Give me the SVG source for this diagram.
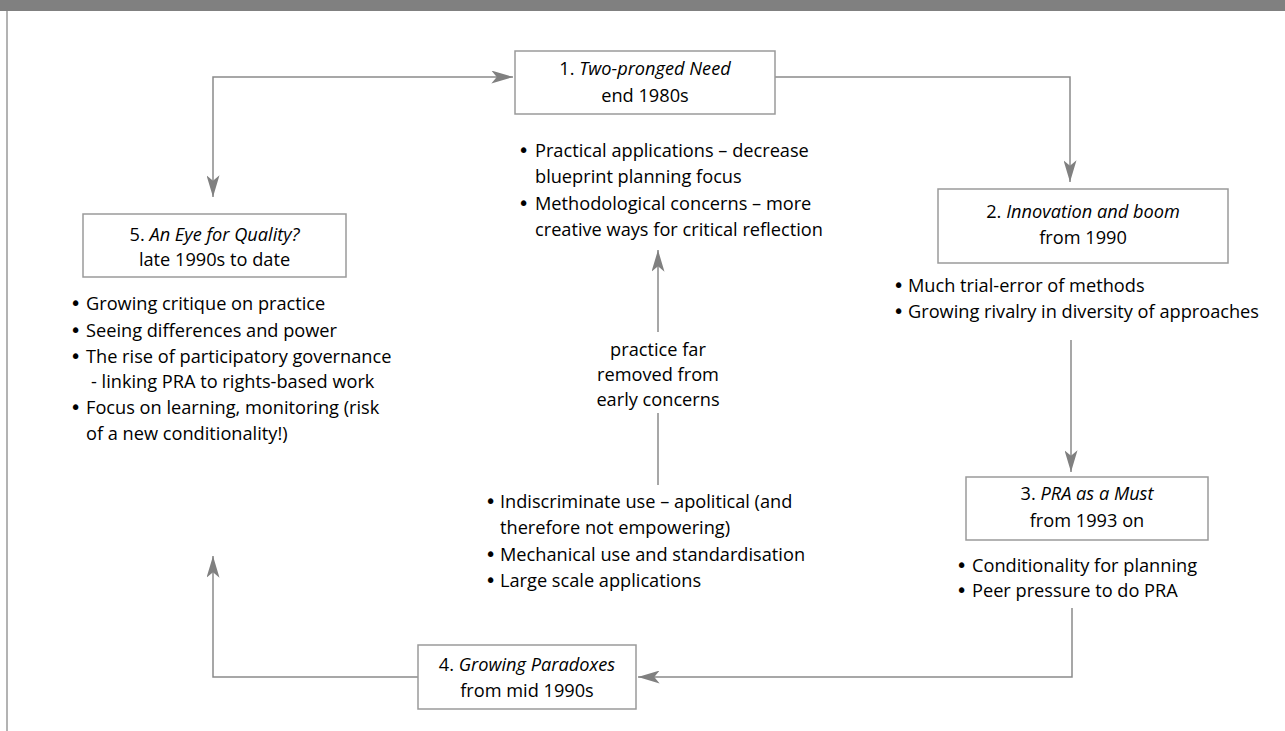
<svg xmlns="http://www.w3.org/2000/svg" width="1285" height="731" viewBox="0 0 1285 731">
<defs>
<style>
.box{fill:#fff;stroke:#9a9a9a;stroke-width:1.5}
.con{fill:none;stroke:#8a8a8a;stroke-width:1.5}
text{font-family:"Open Sans","Liberation Sans",sans-serif;font-size:18.2px;fill:#000}
.b{font-family:"DejaVu Sans","Liberation Sans",sans-serif;font-size:19px}
.c{text-anchor:middle}
.i{font-style:italic}
</style>
<marker id="ah" viewBox="0 0 20 12" refX="20" refY="6" markerWidth="22" markerHeight="13" markerUnits="userSpaceOnUse" orient="auto-start-reverse">
<path d="M0,0 L20,6 L0,12 L5,6 z" fill="#808080"/>
</marker>
</defs>
<rect x="0" y="0" width="1285" height="731" fill="#fff"/>
<rect x="0" y="0" width="1285" height="11" fill="#808080"/>
<line x1="7" y1="11" x2="7" y2="731" stroke="#9a9a9a" stroke-width="1.5"/>

<g id="connectors">
<path class="con" d="M775,77 H1070 V182" marker-end="url(#ah)"/>
<path class="con" d="M1071,340 V472" marker-end="url(#ah)"/>
<path class="con" d="M1072,608 V677 H638" marker-end="url(#ah)"/>
<path class="con" d="M418,677 H213 V556" marker-end="url(#ah)"/>
<path class="con" d="M213,197 V77 H513" marker-start="url(#ah)" marker-end="url(#ah)"/>
<path class="con" d="M658,485 V413"/>
<path class="con" d="M658,332 V250" marker-end="url(#ah)"/>
</g>

<g id="node1">
<rect class="box" x="515" y="51" width="260" height="63"/>
<text class="c" x="645" y="75">1. <tspan class="i">Two-pronged Need</tspan></text>
<text class="c" x="645" y="102">end 1980s</text>
</g>
<g id="node1-notes">
<text class="b" x="518" y="157">•</text><text x="535" y="157">Practical applications – decrease</text>
<text x="535" y="183">blueprint planning focus</text>
<text class="b" x="518" y="210">•</text><text x="535" y="210">Methodological concerns – more</text>
<text x="535" y="236">creative ways for critical reflection</text>
</g>

<g id="node2">
<rect class="box" x="938" y="189" width="290" height="74"/>
<text class="c" x="1083" y="218">2. <tspan class="i">Innovation and boom</tspan></text>
<text class="c" x="1083" y="244">from 1990</text>
</g>
<g id="node2-notes">
<text class="b" x="893" y="292">•</text><text x="908" y="292">Much trial-error of methods</text>
<text class="b" x="893" y="318">•</text><text x="908" y="318">Growing rivalry in diversity of approaches</text>
</g>

<g id="node3">
<rect class="box" x="966" y="477" width="242" height="63"/>
<text class="c" x="1087" y="500">3. <tspan class="i">PRA as a Must</tspan></text>
<text class="c" x="1087" y="527">from 1993 on</text>
</g>
<g id="node3-notes">
<text class="b" x="956" y="572">•</text><text x="972" y="572">Conditionality for planning</text>
<text class="b" x="956" y="597">•</text><text x="972" y="597">Peer pressure to do PRA</text>
</g>

<g id="node4">
<rect class="box" x="418" y="645" width="218" height="64"/>
<text class="c" x="527" y="671">4. <tspan class="i">Growing Paradoxes</tspan></text>
<text class="c" x="527" y="697">from mid 1990s</text>
</g>
<g id="node4-notes">
<text class="b" x="485" y="508">•</text><text x="500" y="508">Indiscriminate use – apolitical (and</text>
<text x="500" y="534">therefore not empowering)</text>
<text class="b" x="485" y="561">•</text><text x="500" y="561">Mechanical use and standardisation</text>
<text class="b" x="485" y="587">•</text><text x="500" y="587">Large scale applications</text>
</g>

<g id="node5">
<rect class="box" x="83" y="214" width="263" height="63"/>
<text class="c" x="214.5" y="241">5. <tspan class="i">An Eye for Quality?</tspan></text>
<text class="c" x="214.5" y="266">late 1990s to date</text>
</g>
<g id="node5-notes">
<text class="b" x="70" y="310">•</text><text x="86" y="310">Growing critique on practice</text>
<text class="b" x="70" y="337">•</text><text x="86" y="337">Seeing differences and power</text>
<text class="b" x="70" y="363">•</text><text x="86" y="363">The rise of participatory governance</text>
<text x="91" y="388">- linking PRA to rights-based work</text>
<text class="b" x="70" y="414">•</text><text x="86" y="414">Focus on learning, monitoring (risk</text>
<text x="86" y="440">of a new conditionality!)</text>
</g>

<g id="label-middle">
<text class="c" x="658" y="356">practice far</text>
<text class="c" x="658" y="381">removed from</text>
<text class="c" x="658" y="406">early concerns</text>
</g>
</svg>
